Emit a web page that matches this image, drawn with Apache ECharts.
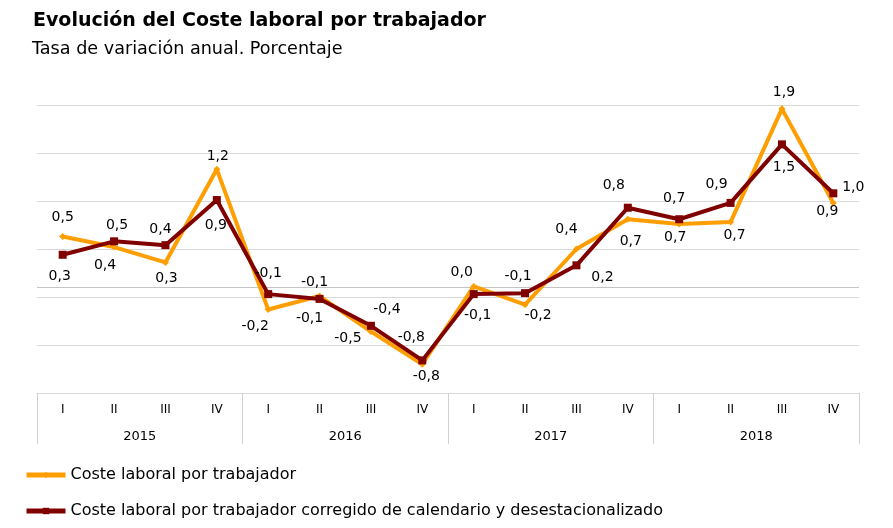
<!DOCTYPE html>
<html><head><meta charset="utf-8">
<script src="https://cdn.jsdelivr.net/npm/echarts@6/dist/echarts.min.js"></script>
<style>html,body{margin:0;padding:0;background:#fff}#c{width:893px;height:528px}</style>
</head><body><div id="c"></div>
<script>
const quarters = ['I','II','III','IV','I','II','III','IV','I','II','III','IV','I','II','III','IV'];
const years = ['2015','2016','2017','2018'];
const seriesNames = ['Coste laboral por trabajador','Coste laboral por trabajador corregido de calendario y desestacionalizado'];
const costeLaboral = [0.53,0.42,0.26,1.23,-0.23,-0.09,-0.46,-0.80,0.01,-0.18,0.40,0.71,0.66,0.68,1.86,0.88];
const costeCorregido = [0.34,0.48,0.44,0.91,-0.07,-0.12,-0.40,-0.76,-0.07,-0.06,0.23,0.83,0.71,0.88,1.49,0.98];
const yMin = -1.1, yMax = 1.9, yStep = 0.5;

// label placement (offset of label centre from point, px)
const orangeLabelOffsets = [[0,-19],[-9,18],[1,16],[1,-13],[-13,17],[-5,-14],[-23,7],[4,12],[-12,-14],[13,11],[-10,-20],[3,22],[-4,13],[4,13],[2,-16],[-6,8]];
const darkLabelOffsets = [[-3,22],[3,-16],[-5,-16],[-1,25],[0,-21],[-10,19],[16,-16],[-11,-23],[4,21],[-7,-17],[26,12],[-14,-22],[-5,-21],[-14,-19],[2,23],[20,-6]];

const FONT = 'DejaVu Sans, Liberation Sans, Arial, sans-serif';
const fmt = p => p.value.toFixed(1).replace('.', ',');

function buildData(values, offsets) {
  return values.map((v, i) => ({
    value: v,
    label: { offset: offsets[i] }
  }));
}

const chart = echarts.init(document.getElementById('c'), null, {renderer: 'canvas'});
chart.setOption({
  animation: false,
  textStyle: { fontFamily: FONT },
  title: [
    { text: 'Evolución del Coste laboral por trabajador', left: 28, top: 7,
      textStyle: { fontSize: 19, fontWeight: 'bold', color: '#000', fontFamily: FONT } },
    { text: 'Tasa de variación anual. Porcentaje', left: 27, top: 35,
      textStyle: { fontSize: 17.6, fontWeight: 'normal', color: '#000', fontFamily: FONT } }
  ],
  legend: {
    orient: 'vertical', left: 19, top: 462, itemGap: 20,
    itemWidth: 39, itemHeight: 8,
    lineStyle: { width: 5 },
    textStyle: { fontSize: 16, color: '#000', fontFamily: FONT },
    data: seriesNames
  },
  grid: { left: 37, right: 34, top: 105, bottom: 135, containLabel: false },
  xAxis: [
    { type: 'category', data: quarters, position: 'bottom',
      axisLine: { show: true, onZero: false, lineStyle: { color: '#d9d9d9', width: 1 } },
      axisTick: { show: false },
      axisLabel: { margin: 11, fontSize: 12, color: '#000', fontFamily: FONT, interval: 0 } },
    { type: 'category', data: years, position: 'bottom',
      axisLine: { show: false, onZero: false },
      axisTick: { show: true, length: 51, interval: 0, lineStyle: { color: '#d0d0d0', width: 1 } },
      axisLabel: { margin: 37, fontSize: 13, color: '#000', fontFamily: FONT, interval: 0 } }
  ],
  yAxis: {
    type: 'value', min: yMin, max: yMax, interval: yStep,
    axisLine: { show: false }, axisTick: { show: false }, axisLabel: { show: false },
    splitLine: { show: true, lineStyle: { color: '#d9d9d9', width: 1 } }
  },
  series: [
    { name: seriesNames[0], type: 'line', xAxisIndex: 0,
      data: buildData(costeLaboral, orangeLabelOffsets),
      color: '#FF9E00',
      lineStyle: { width: 4, color: '#FF9E00' },
      symbol: 'diamond', symbolSize: 7,
      itemStyle: { color: '#FF9E00' },
      z: 2,
      label: { show: true, position: 'inside', formatter: fmt, fontSize: 14, color: '#000', fontFamily: FONT },
      markLine: { silent: true, symbol: ['none','none'], z: 1, label: { show: false },
        lineStyle: { color: '#c4c4c4', width: 1, type: 'solid' }, data: [{ yAxis: 0 }] }
    },
    { name: seriesNames[1], type: 'line', xAxisIndex: 0,
      data: buildData(costeCorregido, darkLabelOffsets),
      color: '#800000',
      lineStyle: { width: 4, color: '#800000' },
      symbol: 'rect', symbolSize: 8,
      itemStyle: { color: '#800000' },
      z: 3,
      label: { show: true, position: 'inside', formatter: fmt, fontSize: 14, color: '#000', fontFamily: FONT }
    }
  ]
});
</script>
</body></html>
